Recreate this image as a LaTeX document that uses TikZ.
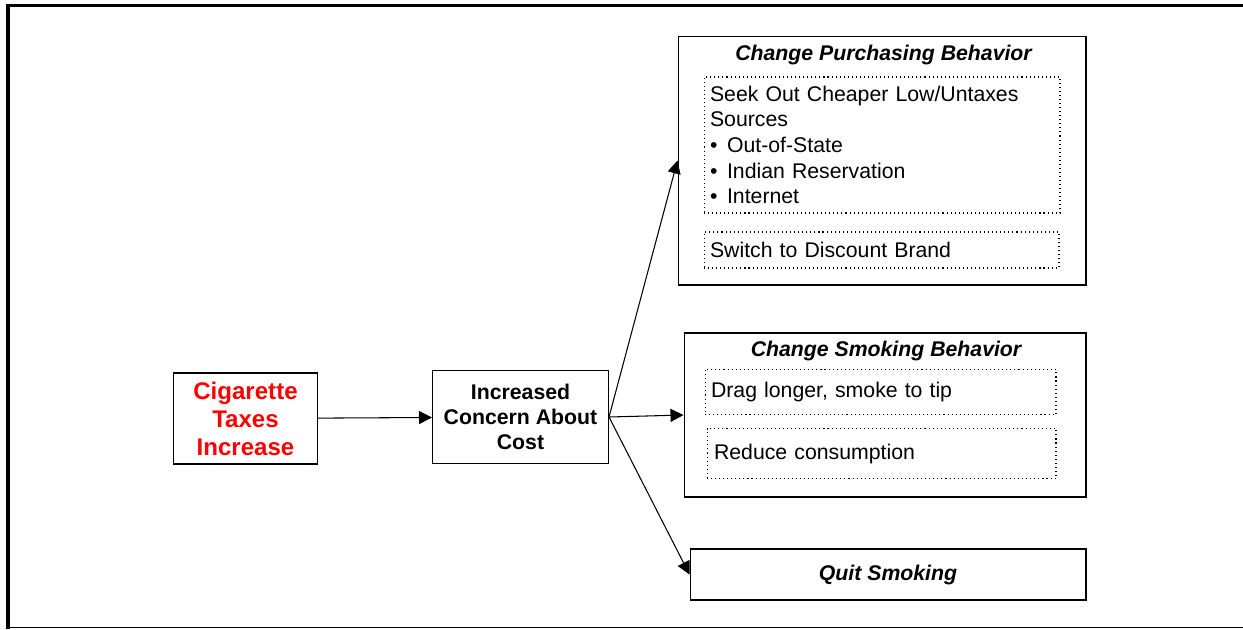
\documentclass[tikz,border=0pt]{standalone}
\usepackage{fontspec}
\setmainfont{Liberation Sans}
\usetikzlibrary{arrows.meta}
\definecolor{tax_red}{RGB}{255,0,0}

\begin{document}
\begin{tikzpicture}[->,x=0.02cm,y=-0.02cm,line width=0.6pt,>={Triangle[length=2.6mm,width=2.6mm]},font=\fontsize{12.1}{14.6}\selectfont]
    \tikzstyle{box}=[draw=black, rectangle, inner sep=0pt, fill=none, text=black, align=center]
    \tikzstyle{dots}=[draw=black, rectangle, dash pattern=on 0.6pt off 1.7pt, inner xsep=0.12cm, inner ysep=0pt, align=left]
    \tikzstyle{head}=[anchor=base, inner sep=0pt, font=\fontsize{12.1}{14.6}\selectfont\bfseries\itshape]

    \useasboundingbox (0,0) rectangle (1243,629);
    \draw[-, line width=2.2pt] (8,629) -- (8,5.5) -- (1243,5.5);
    \draw[-, line width=0.8pt] (8,627.5) -- (1243,627.5);

    \node[box, text=tax_red, font=\fontsize{13.7}{15.9}\selectfont\bfseries, minimum width=2.88cm, minimum height=1.82cm] (tax) at (245.5,418.5) {Cigarette\\Taxes\\Increase};
    \node[box, font=\fontsize{12.1}{14.2}\selectfont\bfseries, minimum width=3.52cm, minimum height=1.86cm] (cost) at (520.5,417) {Increased\\Concern About\\Cost};

    % purchasing
    \node[box, minimum width=8.16cm, minimum height=4.98cm] (buy) at (882,160.5) {};
    \node[head] (buyt) at (883.5,60) {Change Purchasing Behavior};
    \node[dots, text width=6.88cm, minimum height=2.72cm] (seek) at (882,145) {Seek Out Cheaper Low/Untaxes\\Sources\\•\hspace{0.45em}Out-of-State\\•\hspace{0.45em}Indian Reservation\\•\hspace{0.45em}Internet};
    \node[dots, text width=6.86cm, minimum height=0.72cm] (brand) at (881.5,250) {Switch to Discount Brand};

    % smoking
    \node[box, minimum width=8.04cm, minimum height=3.28cm] (smoke) at (885,415) {};
    \node[head] (smoket) at (886,356.7) {Change Smoking Behavior};
    \node[dots, text width=6.78cm, minimum height=0.9cm] (drag) at (880.5,392) {Drag longer, smoke to tip};
    \node[dots, inner xsep=0.14cm, text width=6.70cm, minimum height=1.0cm] (less) at (881.5,453.5) {Reduce consumption};

    \node[box, font=\fontsize{12.1}{14.6}\selectfont\bfseries\itshape, minimum width=7.92cm, minimum height=1.02cm] (quit) at (888,574.5) {Quit Smoking};

    \path
     (tax) edge[] (cost)
     (cost.east) edge[] (buy.west)
     (cost.east) edge[] (smoke.west)
     (cost.east) edge[] (quit.west)
     ;
\end{tikzpicture}
\end{document}
